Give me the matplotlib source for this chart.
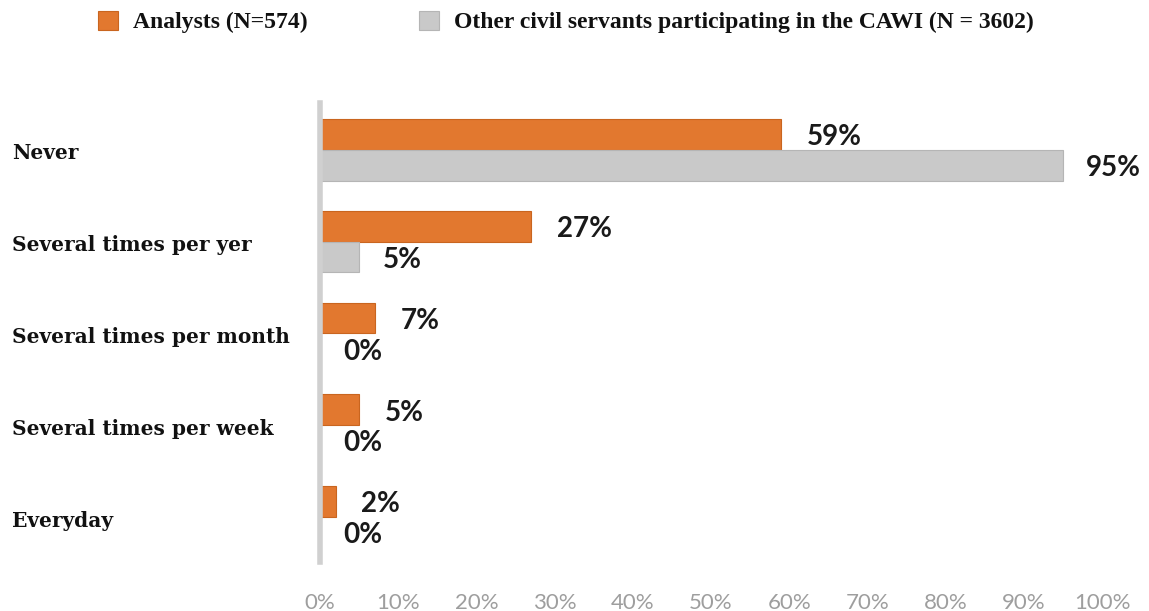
import matplotlib
matplotlib.use("Agg")
import matplotlib.pyplot as plt
import matplotlib.transforms as mtrans
import numpy as np

categories = ["Never", "Several times per yer", "Several times per month",
              "Several times per week", "Everyday"]
analysts = [59, 27, 7, 5, 2]
others = [95, 5, 0, 0, 0]
series_names = ["Analysts (N=574)",
                "Other civil servants participating in the CAWI (N = 3602)"]
xticks = [0, 10, 20, 30, 40, 50, 60, 70, 80, 90, 100]
xtick_labels = [f"{t}%" for t in xticks]

orange = "#E2782F"
grey = "#C9C9C9"

fig = plt.figure(figsize=(11.49, 6.11), dpi=100)
ax = fig.add_axes([320/1149, 1-562/611, (1102-320)/1149, (562-103)/611])

y = np.arange(len(categories))
h = 0.335
b1 = ax.barh(y - h/2, analysts, height=h, color=orange, edgecolor="#C9651F", linewidth=0.8, label=series_names[0])
b2 = ax.barh(y + h/2, others, height=h, color=grey, edgecolor="#B5B5B5", linewidth=0.8, label=series_names[1])

val_font = dict(family=["Lato", "DejaVu Sans"], fontsize=20, fontweight="bold", color="#1a1a1a")
for yi, v in zip(y, analysts):
    ax.text(v + 3.3, yi - h/2 + 0.03, f"{v}%", va="center", ha="left", **val_font)
for yi, v in zip(y, others):
    ax.text(v + 3.0, yi + h/2 + 0.03, f"{v}%", va="center", ha="left", **val_font)

ax.set_xlim(0, 100)
ax.set_ylim(4.49, -0.51)
ax.set_xticks(xticks)
ax.set_xticklabels(xtick_labels, family=["Lato", "DejaVu Sans"], fontsize=16, color="#9E9E9E")
ax.tick_params(axis="x", length=0, pad=22)
ax.set_yticks(y)
ax.set_yticklabels([])
ax.tick_params(axis="y", length=0)
tr = mtrans.blended_transform_factory(fig.transFigure, ax.transData)
for yi, c in zip(y, categories):
    fig.text(12/1149, yi + 0.04, c, transform=tr, ha="left", va="center",
             family=["DejaVu Serif"], fontweight="bold", fontsize=14.5, color="#111111")

for s in ["top", "right", "bottom"]:
    ax.spines[s].set_visible(False)
ax.spines["left"].set_color("#D0D0D0")
ax.spines["left"].set_linewidth(4)

leg_kw = dict(loc="center left", frameon=False, borderpad=0, borderaxespad=0,
              handlelength=0.85, handleheight=0.85, handletextpad=0.65,
              prop=dict(family="Liberation Serif", weight="bold", size=17))
leg1 = fig.legend(handles=[b1], labels=[series_names[0]],
                  bbox_to_anchor=(98/1149, 1 - 22/611), **leg_kw)
leg2 = fig.legend(handles=[b2], labels=[series_names[1]],
                  bbox_to_anchor=(419/1149, 1 - 22/611), **leg_kw)
for lg in (leg1, leg2):
    for t in lg.get_texts():
        t.set_color("#111111")

fig.savefig("out.png", dpi=100)
